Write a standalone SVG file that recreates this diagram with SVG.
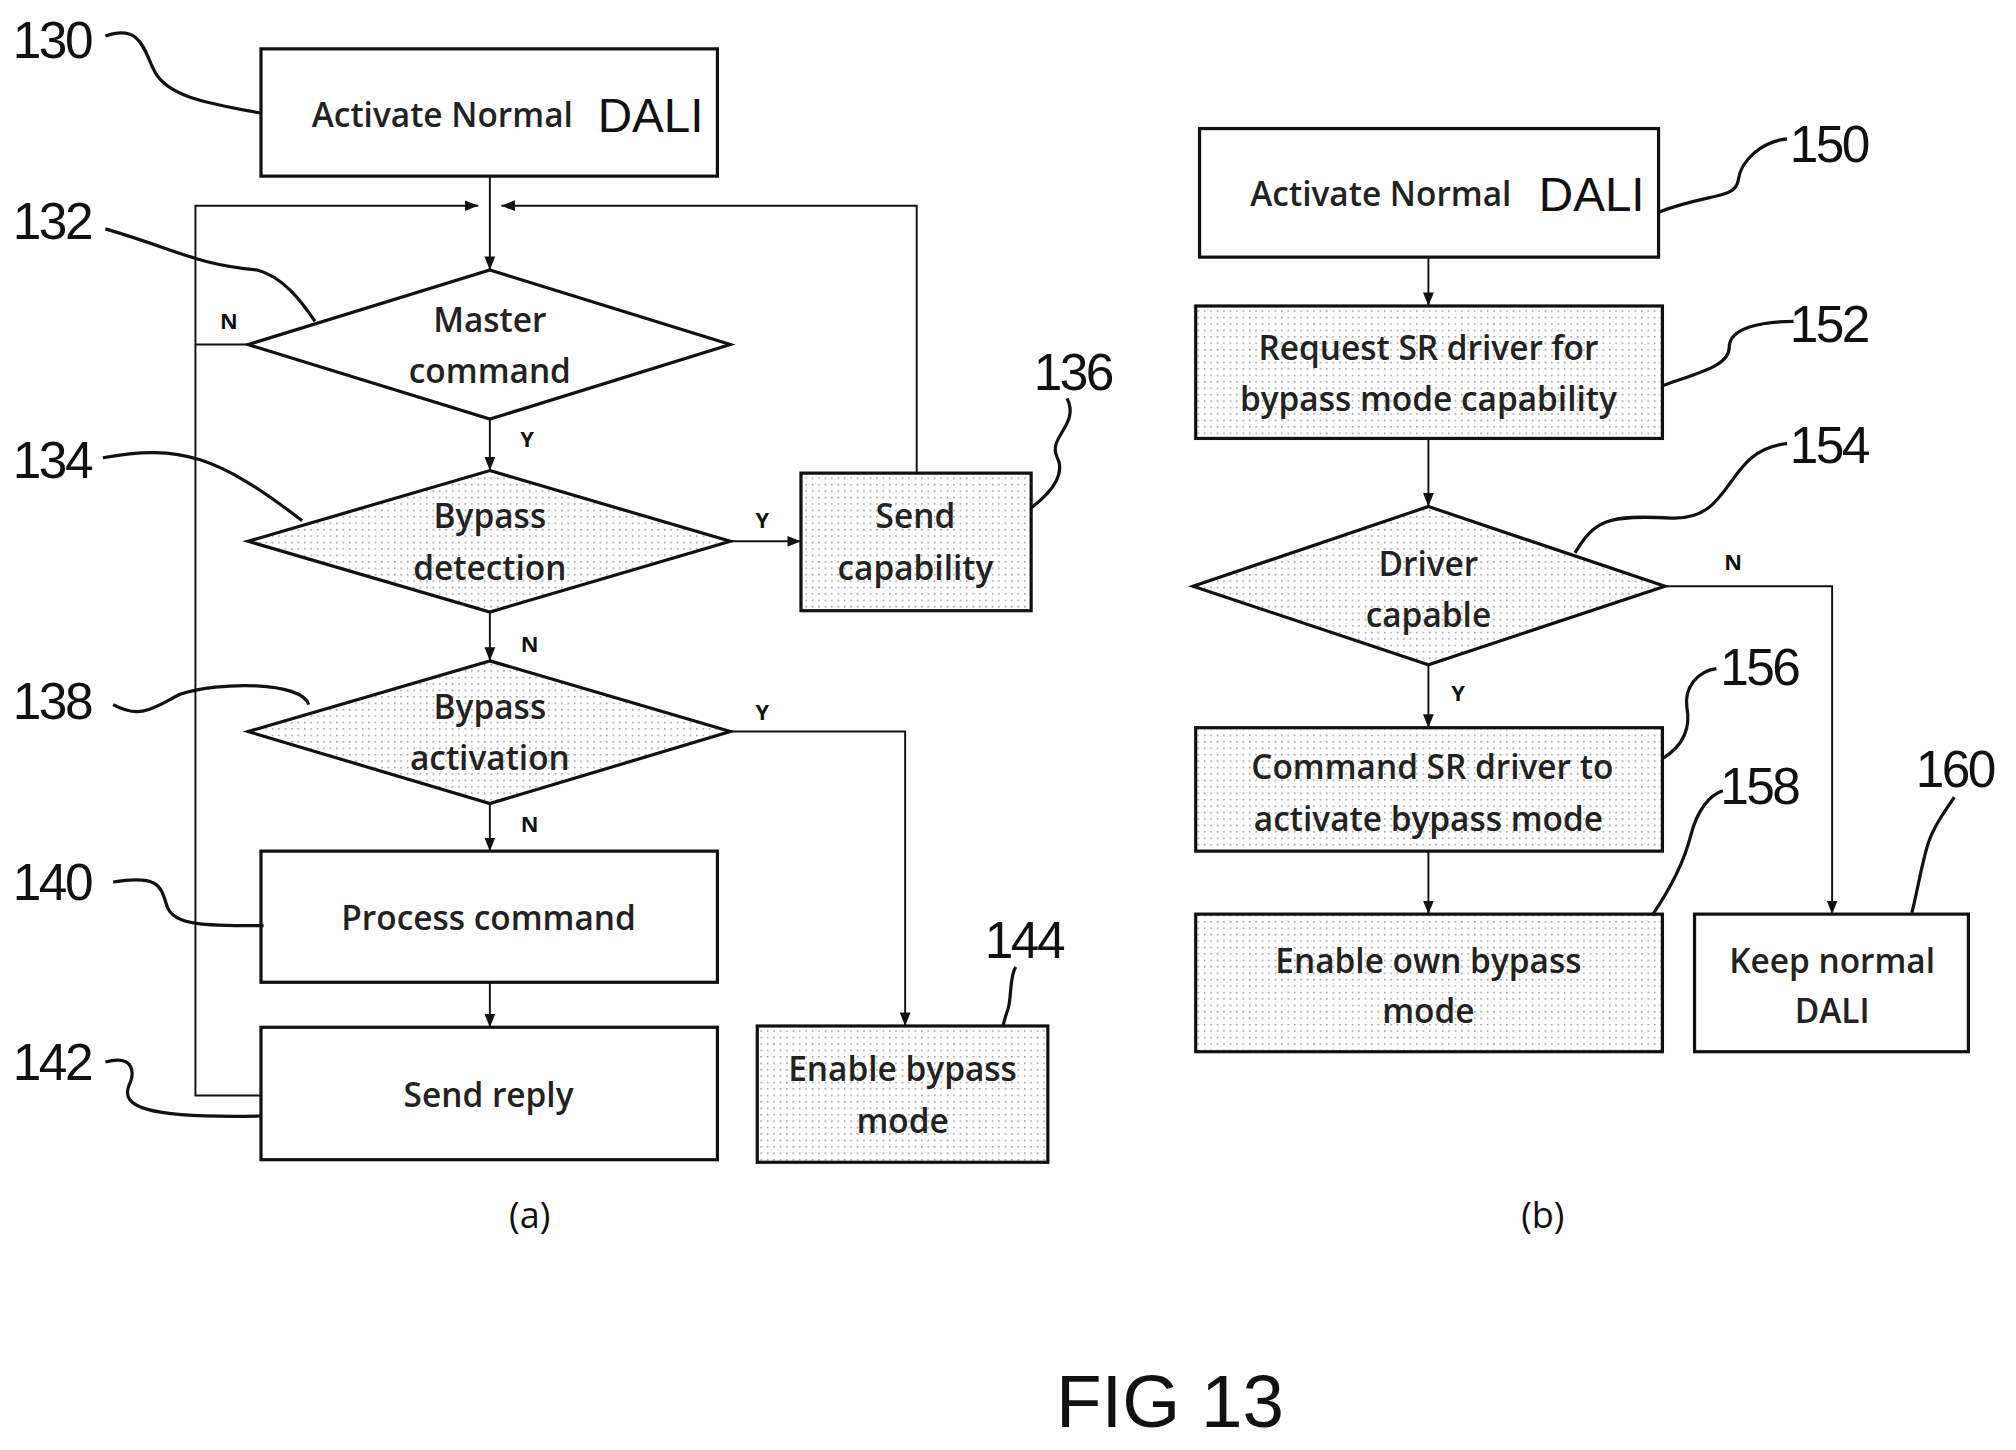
<svg xmlns="http://www.w3.org/2000/svg" width="2016" height="1450" viewBox="0 0 2016 1450">
<style>
.b{fill:#fff;stroke:#111;stroke-width:2.5}
.d{fill:url(#dots);stroke:#111;stroke-width:2.5}
.t{font-family:"Open Sans",sans-serif;font-size:26px;font-weight:600;fill:#222;text-anchor:middle}
.s{font-family:"Open Sans",sans-serif;font-size:17px;font-weight:bold;fill:#111;text-anchor:middle}
.n{font-family:"Liberation Sans",sans-serif;font-size:40px;fill:#111;letter-spacing:-2px}
.c{fill:none;stroke:#111;stroke-width:1.5}
.l{fill:none;stroke:#111;stroke-width:2.5}
.dl{font-family:"Liberation Sans",sans-serif;font-size:37px;text-anchor:middle;fill:#111}
</style>
<defs>
<pattern id="dots" width="5" height="5" patternUnits="userSpaceOnUse"><rect width="5" height="5" fill="#fff"/><circle cx="2" cy="2" r="0.7" fill="#999"/></pattern>
<marker id="a" viewBox="0 0 10 10" refX="10" refY="5" markerWidth="7" markerHeight="7" orient="auto"><path d="M0,1 L10,5 L0,9 z" fill="#111"/></marker>
</defs>
<rect width="2016" height="1450" fill="#fff"/>
<g transform="scale(1.2857)">
<g id="connectors">
<path class="c" d="M381,137 V210" marker-end="url(#a)"/>
<path class="c" d="M203,852 H152 V160 H372" marker-end="url(#a)"/>
<path class="c" d="M193,268 H152"/>
<path class="c" d="M713,368 V160 H390" marker-end="url(#a)"/>
<path class="c" d="M381,326 V366" marker-end="url(#a)"/>
<path class="c" d="M568,421 H623" marker-end="url(#a)"/>
<path class="c" d="M381,476 V514" marker-end="url(#a)"/>
<path class="c" d="M568,569 H704 V798" marker-end="url(#a)"/>
<path class="c" d="M381,625 V662" marker-end="url(#a)"/>
<path class="c" d="M381,764 V799" marker-end="url(#a)"/>
<path class="c" d="M1111,200 V238" marker-end="url(#a)"/>
<path class="c" d="M1111,341 V394" marker-end="url(#a)"/>
<path class="c" d="M1295,456 H1425 V711" marker-end="url(#a)"/>
<path class="c" d="M1111,517 V566" marker-end="url(#a)"/>
<path class="c" d="M1111,662 V711" marker-end="url(#a)"/>
<text class="s" x="178" y="256">N</text>
<text class="s" x="410" y="348">Y</text>
<text class="s" x="593" y="411">Y</text>
<text class="s" x="412" y="507">N</text>
<text class="s" x="593" y="560">Y</text>
<text class="s" x="412" y="647">N</text>
<text class="s" x="1348" y="443">N</text>
<text class="s" x="1134" y="545">Y</text>
</g>
<g id="n130"><rect class="b" x="203" y="38" width="355" height="99"/><text class="t" x="344" y="99">Activate Normal</text><text class="dl" x="506" y="103">DALI</text></g>
<g id="n132"><path class="b" d="M381,210 L568,268 L381,326 L193,268 Z"/><text class="t" x="381" y="258">Master</text><text class="t" x="381" y="298">command</text></g>
<g id="n134"><path class="d" d="M381,366 L568,421 L381,476 L193,421 Z"/><text class="t" x="381" y="411">Bypass</text><text class="t" x="381" y="451">detection</text></g>
<g id="n136"><rect class="d" x="623" y="368" width="179" height="107"/><text class="t" x="712" y="411">Send</text><text class="t" x="712" y="451">capability</text></g>
<g id="n138"><path class="d" d="M381,514 L568,569 L381,625 L193,569 Z"/><text class="t" x="381" y="559">Bypass</text><text class="t" x="381" y="599">activation</text></g>
<g id="n140"><rect class="b" x="203" y="662" width="355" height="102"/><text class="t" x="380" y="723">Process command</text></g>
<g id="n142"><rect class="b" x="203" y="799" width="355" height="103"/><text class="t" x="380" y="861">Send reply</text></g>
<g id="n144"><rect class="d" x="589" y="798" width="226" height="106"/><text class="t" x="702" y="841">Enable bypass</text><text class="t" x="702" y="881">mode</text></g>
<g id="n150"><rect class="b" x="933" y="100" width="357" height="100"/><text class="t" x="1074" y="160">Activate Normal</text><text class="dl" x="1238" y="164">DALI</text></g>
<g id="n152"><rect class="d" x="930" y="238" width="363" height="103"/><text class="t" x="1111" y="280">Request SR driver for</text><text class="t" x="1111" y="320">bypass mode capability</text></g>
<g id="n154"><path class="d" d="M1111,394 L1295,456 L1111,517 L928,456 Z"/><text class="t" x="1111" y="448">Driver</text><text class="t" x="1111" y="488">capable</text></g>
<g id="n156"><rect class="d" x="930" y="566" width="363" height="96"/><text class="t" x="1114" y="606">Command SR driver to</text><text class="t" x="1111" y="646">activate bypass mode</text></g>
<g id="n158"><rect class="d" x="930" y="711" width="363" height="107"/><text class="t" x="1111" y="757">Enable own bypass</text><text class="t" x="1111" y="796">mode</text></g>
<g id="n160"><rect class="b" x="1318" y="711" width="213" height="107"/><text class="t" x="1425" y="757">Keep normal</text><text class="t" x="1425" y="796">DALI</text></g>
<g id="refs">
<text class="n" x="10" y="45">130</text><path class="l" d="M82,28 C110,18 112,40 120,55 C130,75 160,80 203,88"/>
<text class="n" x="10" y="186">132</text><path class="l" d="M82,178 C140,195 150,205 200,210 C220,215 235,235 245,250"/>
<text class="n" x="10" y="372">134</text><path class="l" d="M80,356 C140,345 170,355 235,405"/>
<text class="n" x="10" y="559">138</text><path class="l" d="M88,548 C110,560 120,550 140,540 C170,530 235,530 240,548"/>
<text class="n" x="10" y="700">140</text><path class="l" d="M88,686 C125,680 125,690 130,705 C135,720 160,720 205,720"/>
<text class="n" x="10" y="840">142</text><path class="l" d="M82,826 C105,820 105,835 100,845 C95,860 110,870 203,868"/>
<text class="n" x="804" y="303">136</text><path class="l" d="M830,310 C840,330 815,340 822,355 C830,370 815,385 802,395"/>
<text class="n" x="766" y="745">144</text><path class="l" d="M790,752 C785,760 787,775 784,785 C782,790 781,795 780,798"/>
<text class="n" x="1392" y="126">150</text><path class="l" d="M1290,165 C1330,150 1350,155 1352,140 C1354,125 1370,110 1390,108"/>
<text class="n" x="1392" y="266">152</text><path class="l" d="M1293,300 C1320,290 1345,285 1345,270 C1345,255 1370,250 1395,250"/>
<text class="n" x="1392" y="360">154</text><path class="l" d="M1225,430 C1240,405 1250,400 1300,403 C1350,405 1340,350 1390,345"/>
<text class="n" x="1338" y="533">156</text><path class="l" d="M1293,590 C1310,580 1315,565 1312,550 C1310,535 1320,522 1335,520"/>
<text class="n" x="1338" y="625">158</text><path class="l" d="M1285,712 C1300,690 1310,670 1315,650 C1320,630 1330,618 1340,615"/>
<text class="n" x="1490" y="612">160</text><path class="l" d="M1487,710 C1492,690 1495,670 1500,655 C1505,640 1515,628 1520,620"/>
</g>
<text x="412" y="955" font-family="Open Sans,sans-serif" font-size="28" text-anchor="middle" fill="#111">(a)</text>
<text x="1200" y="955" font-family="Open Sans,sans-serif" font-size="28" text-anchor="middle" fill="#111">(b)</text>
<text x="910" y="1110" font-family="Liberation Sans,sans-serif" font-size="58" text-anchor="middle" fill="#111">FIG 13</text>
</g>
</svg>
